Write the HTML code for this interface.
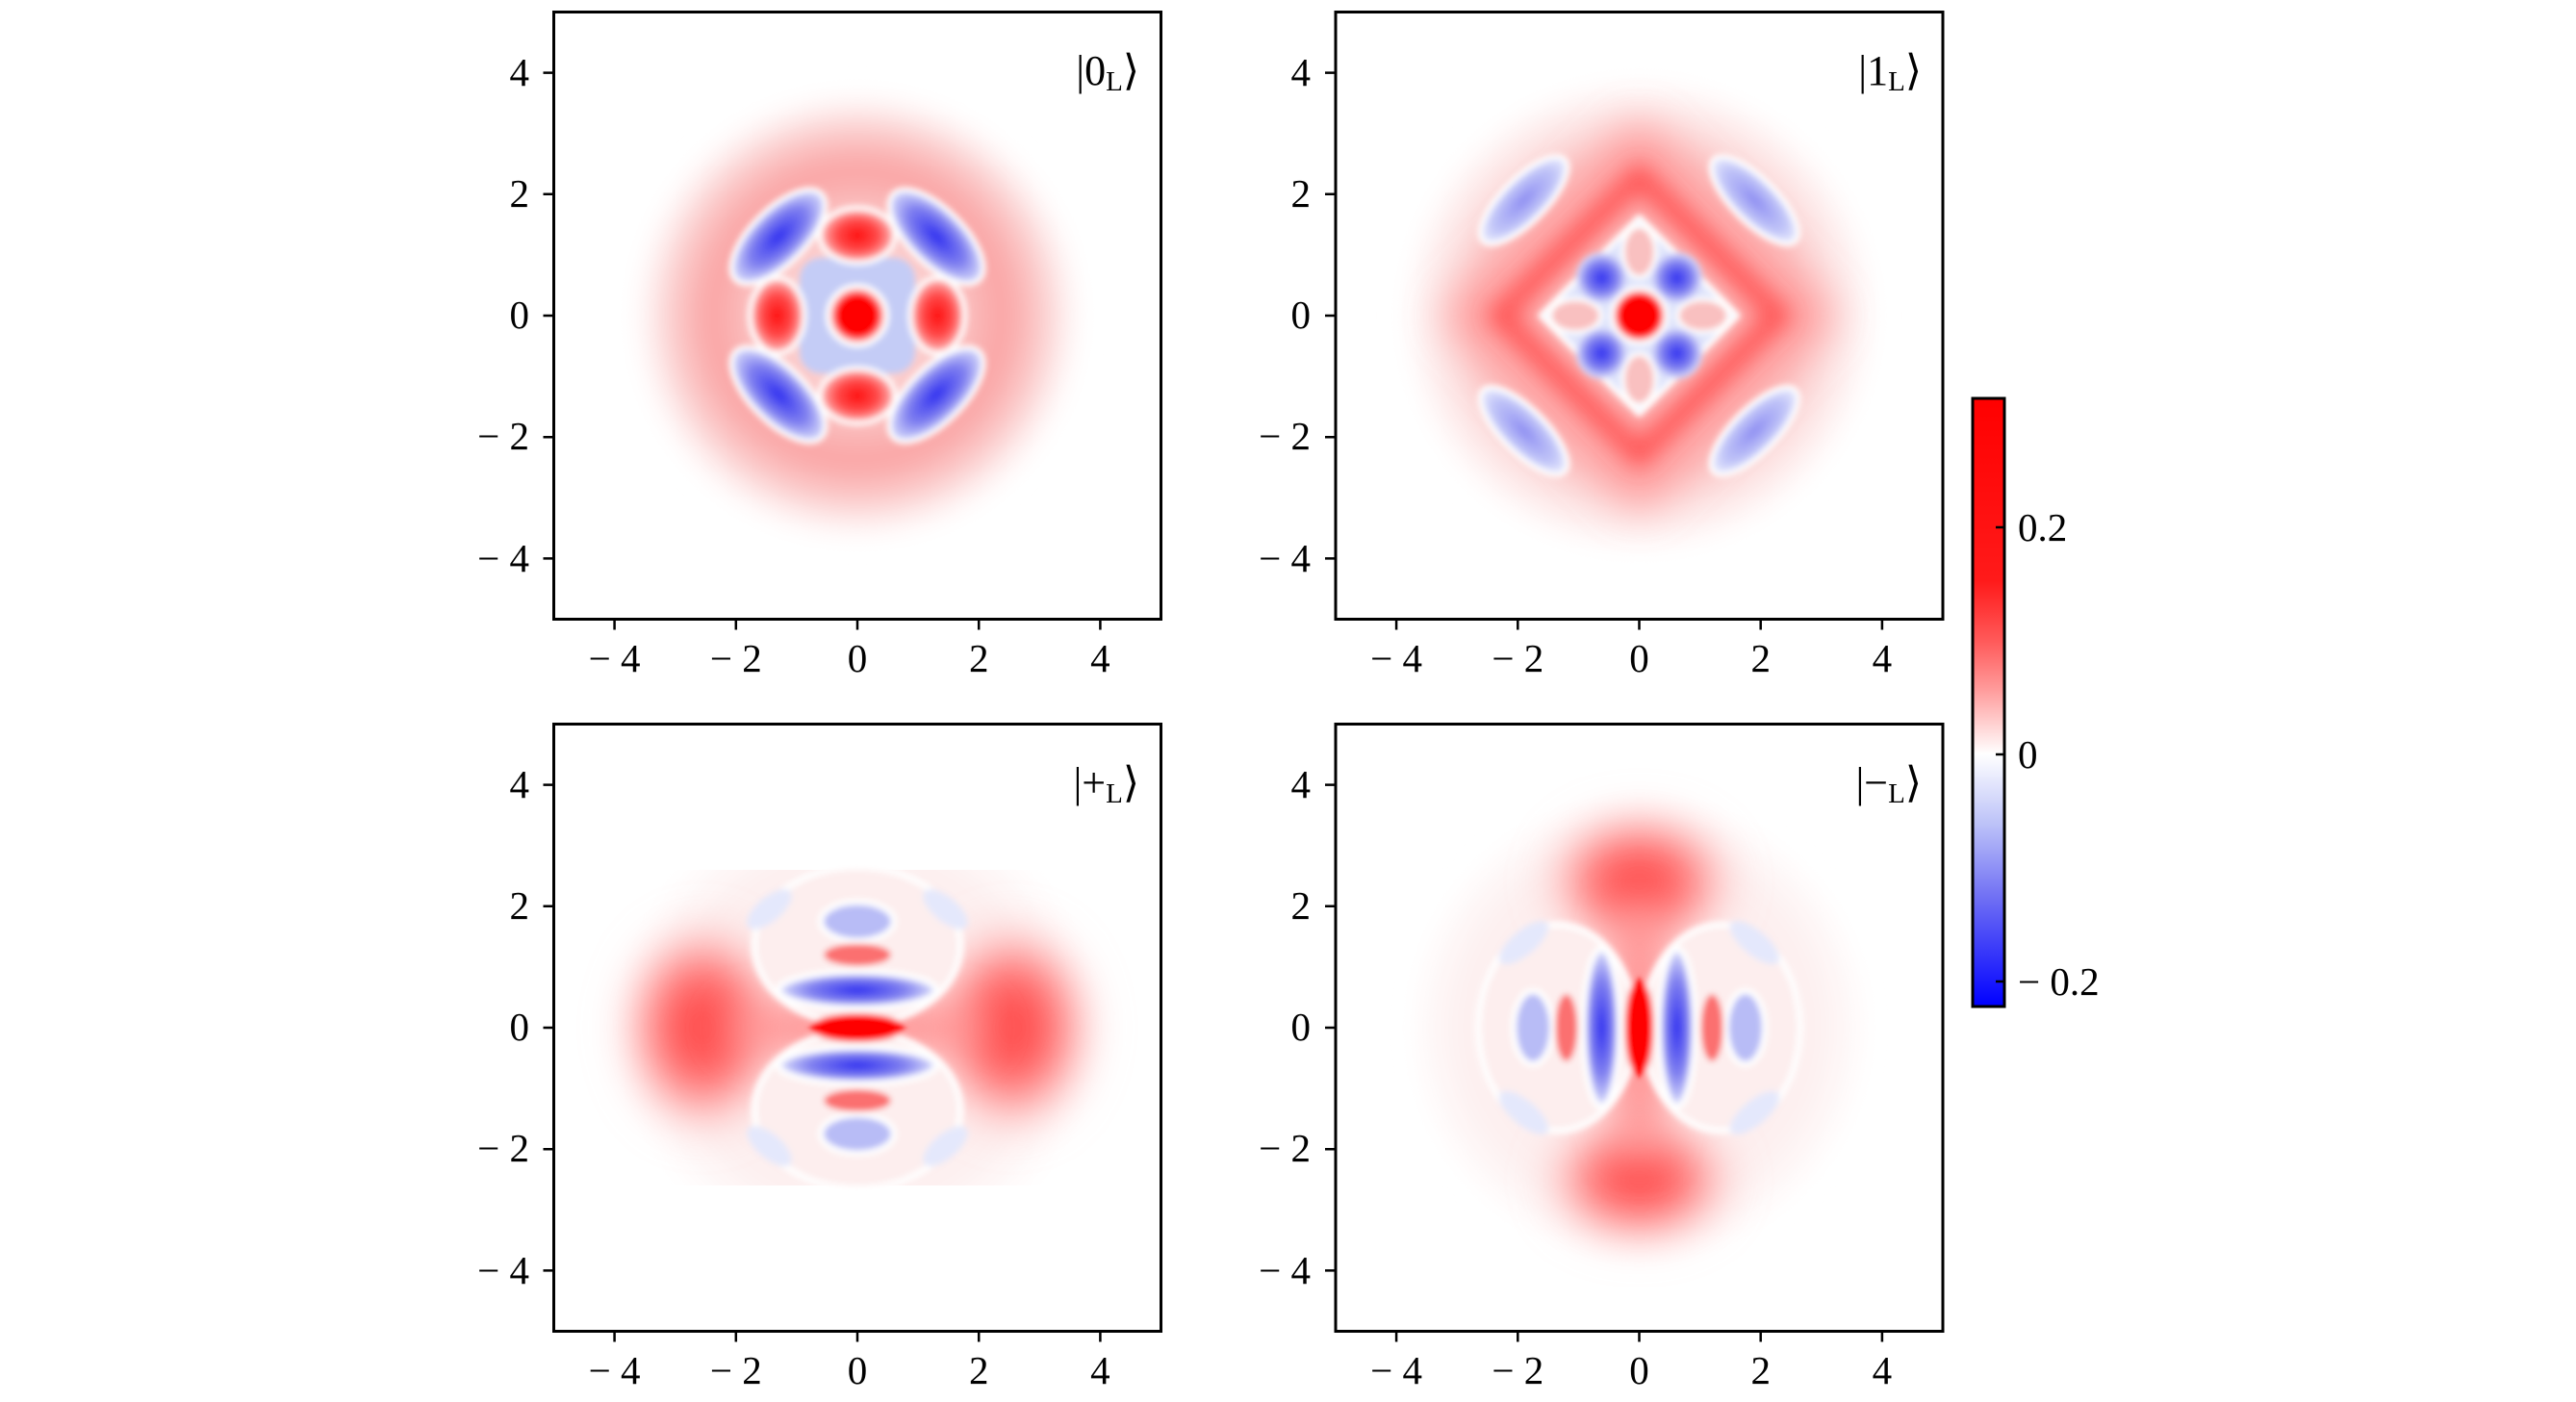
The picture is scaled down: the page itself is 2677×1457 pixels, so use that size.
<!DOCTYPE html>
<html><head><meta charset="utf-8"><style>
html,body{margin:0;padding:0;background:#fff;}
svg{display:block;}
text{font-family:"Liberation Serif",serif;fill:#000;}
</style></head><body>
<svg width="2677" height="1457" viewBox="0 0 2677 1457" xmlns="http://www.w3.org/2000/svg">
<defs>
<filter id="b1" filterUnits="userSpaceOnUse" x="-5" y="-5" width="10" height="10"><feGaussianBlur stdDeviation="0.05"/></filter>
<filter id="b2" filterUnits="userSpaceOnUse" x="-5" y="-5" width="10" height="10"><feGaussianBlur stdDeviation="0.18"/></filter>
<filter id="b3" filterUnits="userSpaceOnUse" x="-5" y="-5" width="10" height="10"><feGaussianBlur stdDeviation="0.35"/></filter>
<radialGradient id="ring0" cx="0" cy="0" r="3.7" gradientUnits="userSpaceOnUse">
<stop offset="0" stop-color="#fde4e4"/><stop offset="0.45" stop-color="#fbc4c4"/><stop offset="0.65" stop-color="#f9a3a3"/><stop offset="0.8" stop-color="#fbc6c6"/><stop offset="0.93" stop-color="#fef0f0"/><stop offset="1" stop-color="#fff"/></radialGradient>
<radialGradient id="ring1" cx="0" cy="0" r="3.9" gradientUnits="userSpaceOnUse">
<stop offset="0" stop-color="#fcd0d0"/><stop offset="0.65" stop-color="#fbc4c4"/><stop offset="0.85" stop-color="#fde6e6"/><stop offset="1" stop-color="#fff"/></radialGradient>
<radialGradient id="env" cx="0" cy="0" r="3.9" gradientUnits="userSpaceOnUse">
<stop offset="0" stop-color="#fdeaea"/><stop offset="0.75" stop-color="#fdf0f0"/><stop offset="1" stop-color="#fff"/></radialGradient>
<radialGradient id="rl" cx="0.5" cy="0.5" r="0.5"><stop offset="0" stop-color="#ff1010"/><stop offset="0.55" stop-color="#ff4a4a"/><stop offset="1" stop-color="#fdc0c0"/></radialGradient>
<radialGradient id="rs" cx="0.5" cy="0.5" r="0.5"><stop offset="0" stop-color="#ff3535"/><stop offset="0.55" stop-color="#ff6e6e"/><stop offset="1" stop-color="#ffd0d0" stop-opacity="0"/></radialGradient>
<radialGradient id="bl" cx="0.5" cy="0.5" r="0.5"><stop offset="0" stop-color="#3030f0"/><stop offset="0.6" stop-color="#8080f0"/><stop offset="1" stop-color="#dde0fb"/></radialGradient>
<radialGradient id="blp" cx="0.5" cy="0.5" r="0.5"><stop offset="0" stop-color="#8f8ff2"/><stop offset="0.7" stop-color="#c0c4f8"/><stop offset="1" stop-color="#eceefd"/></radialGradient>
<linearGradient id="cb" x1="0" y1="0" x2="0" y2="1">
<stop offset="0" stop-color="#ff0000"/><stop offset="0.3" stop-color="#ff1a1a"/><stop offset="0.4" stop-color="#ff5a5a"/><stop offset="0.48" stop-color="#ff9c9c"/><stop offset="0.585" stop-color="#ffffff"/><stop offset="0.7" stop-color="#bcc2f8"/><stop offset="0.82" stop-color="#7070f4"/><stop offset="1" stop-color="#0000ff"/></linearGradient>
<clipPath id="cp"><rect x="-5" y="-5" width="10" height="10"/></clipPath>
<clipPath id="cpp"><rect x="-5" y="-2.6" width="10" height="5.2"/></clipPath>
</defs>

<!-- Panel 0L -->
<g transform="translate(891,328) scale(63.1,-63.1)" clip-path="url(#cp)">
 <circle r="3.7" fill="url(#ring0)" filter="url(#b2)"/>
 <g filter="url(#b1)">
  <g fill="url(#bl)" stroke="#fff" stroke-width="0.08">
   <ellipse cx="-1.3" cy="1.3" rx="1.0" ry="0.45" transform="rotate(45 -1.3 1.3)"/>
   <ellipse cx="1.3" cy="1.3" rx="1.0" ry="0.45" transform="rotate(-45 1.3 1.3)"/>
   <ellipse cx="-1.3" cy="-1.3" rx="1.0" ry="0.45" transform="rotate(-45 -1.3 -1.3)"/>
   <ellipse cx="1.3" cy="-1.3" rx="1.0" ry="0.45" transform="rotate(45 1.3 -1.3)"/>
  </g>
  <rect x="-0.95" y="-0.95" width="1.9" height="1.9" rx="0.35" fill="#c4ccf6"/>
  <g stroke="#fff" stroke-width="0.08">
   <ellipse cx="0" cy="1.32" rx="0.62" ry="0.45" fill="url(#rl)"/>
   <ellipse cx="0" cy="-1.32" rx="0.62" ry="0.45" fill="url(#rl)"/>
   <ellipse cx="1.32" cy="0" rx="0.45" ry="0.62" fill="url(#rl)"/>
   <ellipse cx="-1.32" cy="0" rx="0.45" ry="0.62" fill="url(#rl)"/>
  </g>
  <circle r="0.48" fill="#f88" stroke="#fff" stroke-width="0.09"/>
  <circle r="0.36" fill="#ff0000"/>
 </g>
</g>

<!-- Panel 1L -->
<g transform="translate(1703.5,328) scale(63.1,-63.1)" clip-path="url(#cp)">
 <circle r="3.9" fill="url(#ring1)" filter="url(#b2)"/>
 <path d="M0,2.5 L2.5,0 L0,-2.5 L-2.5,0 Z" fill="none" stroke="#ff9a9a" stroke-width="1.0" filter="url(#b3)"/>
 <path d="M0,2.3 L2.3,0 L0,-2.3 L-2.3,0 Z" fill="none" stroke="#ff5050" stroke-width="0.3" filter="url(#b2)"/>
 <g filter="url(#b1)">
  <g fill="url(#blp)" stroke="#fff" stroke-width="0.08">
   <ellipse cx="-1.9" cy="1.9" rx="0.95" ry="0.36" transform="rotate(45 -1.9 1.9)"/>
   <ellipse cx="1.9" cy="1.9" rx="0.95" ry="0.36" transform="rotate(-45 1.9 1.9)"/>
   <ellipse cx="-1.9" cy="-1.9" rx="0.95" ry="0.36" transform="rotate(-45 -1.9 -1.9)"/>
   <ellipse cx="1.9" cy="-1.9" rx="0.95" ry="0.36" transform="rotate(45 1.9 -1.9)"/>
  </g>
  <path d="M0,1.62 L1.62,0 L0,-1.62 L-1.62,0 Z" fill="#dfe4fb" stroke="#fff" stroke-width="0.09" stroke-linejoin="round"/>
  <g fill="url(#bl)">
   <circle cx="-0.62" cy="0.62" r="0.42"/><circle cx="0.62" cy="0.62" r="0.42"/>
   <circle cx="-0.62" cy="-0.62" r="0.42"/><circle cx="0.62" cy="-0.62" r="0.42"/>
  </g>
  <g fill="#f9c0c0" stroke="#fff" stroke-width="0.07">
   <ellipse cx="0" cy="1.05" rx="0.27" ry="0.42"/><ellipse cx="0" cy="-1.05" rx="0.27" ry="0.42"/>
   <ellipse cx="1.05" cy="0" rx="0.42" ry="0.27"/><ellipse cx="-1.05" cy="0" rx="0.42" ry="0.27"/>
  </g>
  <circle r="0.45" fill="#f99" stroke="#fff" stroke-width="0.08"/>
  <circle r="0.36" fill="#ff0000"/>
 </g>
</g>

<!-- Panel +L -->
<g transform="translate(891,1068) scale(63.1,-63.1)" clip-path="url(#cp)">
 <g clip-path="url(#cpp)">
 <circle r="3.9" fill="url(#env)" filter="url(#b2)"/>
 <ellipse cx="-2.55" cy="0" rx="1.4" ry="1.8" fill="url(#rs)" filter="url(#b3)"/>
 <ellipse cx="2.55" cy="0" rx="1.4" ry="1.8" fill="url(#rs)" filter="url(#b3)"/>
 <ellipse cx="0" cy="0" rx="2.2" ry="0.45" fill="#ff8c8c" filter="url(#b3)"/>
 </g>
 <g filter="url(#b1)">
  <g fill="none" stroke="#fff" stroke-width="0.1">
   <ellipse cx="0" cy="1.35" rx="1.7" ry="1.3" fill="#fdeeee"/>
   <ellipse cx="0" cy="-1.35" rx="1.7" ry="1.3" fill="#fdeeee"/>
  </g>
  <ellipse cx="-1.45" cy="1.95" rx="0.45" ry="0.2" fill="#e4e8fc" transform="rotate(40 -1.45 1.95)"/>
  <ellipse cx="1.45" cy="1.95" rx="0.45" ry="0.2" fill="#e4e8fc" transform="rotate(-40 1.45 1.95)"/>
  <ellipse cx="-1.45" cy="-1.95" rx="0.45" ry="0.2" fill="#e4e8fc" transform="rotate(-40 -1.45 -1.95)"/>
  <ellipse cx="1.45" cy="-1.95" rx="0.45" ry="0.2" fill="#e4e8fc" transform="rotate(40 1.45 -1.95)"/>
  <ellipse cx="0" cy="1.2" rx="0.55" ry="0.18" fill="#fb7070"/>
  <ellipse cx="0" cy="-1.2" rx="0.55" ry="0.18" fill="#fb7070"/>
  <ellipse cx="0" cy="1.75" rx="0.6" ry="0.32" fill="#b8bcf6" stroke="#fff" stroke-width="0.1"/>
  <ellipse cx="0" cy="-1.75" rx="0.6" ry="0.32" fill="#b8bcf6" stroke="#fff" stroke-width="0.1"/>
  <ellipse cx="0" cy="0.62" rx="1.3" ry="0.3" fill="url(#bl)" stroke="#fff" stroke-width="0.1"/>
  <ellipse cx="0" cy="-0.62" rx="1.3" ry="0.3" fill="url(#bl)" stroke="#fff" stroke-width="0.1"/>
  <ellipse cx="0" cy="0" rx="0.77" ry="0.23" fill="#ff0000"/>
 </g>
</g>

<!-- Panel -L -->
<g transform="translate(1703.5,1068) scale(63.1,-63.1)" clip-path="url(#cp)">
 <circle r="3.7" fill="url(#env)" filter="url(#b2)"/>
 <ellipse cx="0" cy="2.4" rx="1.6" ry="1.2" fill="url(#rs)" filter="url(#b3)"/>
 <ellipse cx="0" cy="-2.5" rx="1.6" ry="1.1" fill="url(#rs)" filter="url(#b3)"/>
 <ellipse cx="0" cy="0" rx="0.5" ry="2.2" fill="#ff8c8c" filter="url(#b3)"/>
 <g filter="url(#b1)">
  <g stroke="#fff" stroke-width="0.1">
   <ellipse cx="-1.35" cy="0" rx="1.3" ry="1.7" fill="#fdeeee"/>
   <ellipse cx="1.35" cy="0" rx="1.3" ry="1.7" fill="#fdeeee"/>
  </g>
  <ellipse cx="-1.9" cy="1.4" rx="0.5" ry="0.2" fill="#e4e8fc" transform="rotate(40 -1.9 1.4)"/>
  <ellipse cx="1.9" cy="1.4" rx="0.5" ry="0.2" fill="#e4e8fc" transform="rotate(-40 1.9 1.4)"/>
  <ellipse cx="-1.9" cy="-1.4" rx="0.5" ry="0.2" fill="#e4e8fc" transform="rotate(-40 -1.9 -1.4)"/>
  <ellipse cx="1.9" cy="-1.4" rx="0.5" ry="0.2" fill="#e4e8fc" transform="rotate(40 1.9 -1.4)"/>
  <ellipse cx="-1.2" cy="0" rx="0.18" ry="0.55" fill="#fb7070"/>
  <ellipse cx="1.2" cy="0" rx="0.18" ry="0.55" fill="#fb7070"/>
  <ellipse cx="-1.75" cy="0" rx="0.32" ry="0.6" fill="#b8bcf6" stroke="#fff" stroke-width="0.1"/>
  <ellipse cx="1.75" cy="0" rx="0.32" ry="0.6" fill="#b8bcf6" stroke="#fff" stroke-width="0.1"/>
  <ellipse cx="-0.62" cy="0" rx="0.3" ry="1.3" fill="url(#bl)" stroke="#fff" stroke-width="0.1"/>
  <ellipse cx="0.62" cy="0" rx="0.3" ry="1.3" fill="url(#bl)" stroke="#fff" stroke-width="0.1"/>
  <ellipse cx="0" cy="0" rx="0.23" ry="0.8" fill="#ff0000"/>
 </g>
</g>

<!-- Axes frames, ticks, labels -->
<g fill="none" stroke="#000" stroke-width="3">
 <rect x="575.5" y="12.5" width="631" height="631"/>
 <rect x="1388" y="12.5" width="631" height="631"/>
 <rect x="575.5" y="752.5" width="631" height="631"/>
 <rect x="1388" y="752.5" width="631" height="631"/>
</g>
<g stroke="#000" stroke-width="2.5">
 <path d="M638.6,643.5v11M764.8,643.5v11M891,643.5v11M1017.2,643.5v11M1143.4,643.5v11"/>
 <path d="M575.5,75.6h-11M575.5,201.8h-11M575.5,328h-11M575.5,454.2h-11M575.5,580.4h-11"/>
 <path d="M1451.1,643.5v11M1577.3,643.5v11M1703.5,643.5v11M1829.7,643.5v11M1955.9,643.5v11"/>
 <path d="M1388,75.6h-11M1388,201.8h-11M1388,328h-11M1388,454.2h-11M1388,580.4h-11"/>
 <path d="M638.6,1383.5v11M764.8,1383.5v11M891,1383.5v11M1017.2,1383.5v11M1143.4,1383.5v11"/>
 <path d="M575.5,815.6h-11M575.5,941.8h-11M575.5,1068h-11M575.5,1194.2h-11M575.5,1320.4h-11"/>
 <path d="M1451.1,1383.5v11M1577.3,1383.5v11M1703.5,1383.5v11M1829.7,1383.5v11M1955.9,1383.5v11"/>
 <path d="M1388,815.6h-11M1388,941.8h-11M1388,1068h-11M1388,1194.2h-11M1388,1320.4h-11"/>
</g>
<g font-size="41" text-anchor="middle">
 <text x="638.6" y="698">− 4</text><text x="764.8" y="698">− 2</text><text x="891" y="698">0</text><text x="1017.2" y="698">2</text><text x="1143.4" y="698">4</text>
 <text x="1451.1" y="698">− 4</text><text x="1577.3" y="698">− 2</text><text x="1703.5" y="698">0</text><text x="1829.7" y="698">2</text><text x="1955.9" y="698">4</text>
 <text x="638.6" y="1438">− 4</text><text x="764.8" y="1438">− 2</text><text x="891" y="1438">0</text><text x="1017.2" y="1438">2</text><text x="1143.4" y="1438">4</text>
 <text x="1451.1" y="1438">− 4</text><text x="1577.3" y="1438">− 2</text><text x="1703.5" y="1438">0</text><text x="1829.7" y="1438">2</text><text x="1955.9" y="1438">4</text>
</g>
<g font-size="41" text-anchor="end">
 <text x="550" y="89">4</text><text x="550" y="215">2</text><text x="550" y="341">0</text><text x="550" y="467">− 2</text><text x="550" y="594">− 4</text>
 <text x="1362" y="89">4</text><text x="1362" y="215">2</text><text x="1362" y="341">0</text><text x="1362" y="467">− 2</text><text x="1362" y="594">− 4</text>
 <text x="550" y="829">4</text><text x="550" y="955">2</text><text x="550" y="1081">0</text><text x="550" y="1207">− 2</text><text x="550" y="1334">− 4</text>
 <text x="1362" y="829">4</text><text x="1362" y="955">2</text><text x="1362" y="1081">0</text><text x="1362" y="1207">− 2</text><text x="1362" y="1334">− 4</text>
</g>
<g font-size="44" text-anchor="end">
 <text x="1184" y="88">|0<tspan font-size="29" dy="6">L</tspan><tspan dy="-6">⟩</tspan></text>
 <text x="1997" y="88">|1<tspan font-size="29" dy="6">L</tspan><tspan dy="-6">⟩</tspan></text>
 <text x="1184" y="828">|+<tspan font-size="29" dy="6">L</tspan><tspan dy="-6">⟩</tspan></text>
 <text x="1997" y="828">|−<tspan font-size="29" dy="6">L</tspan><tspan dy="-6">⟩</tspan></text>
</g>

<!-- Colorbar -->
<rect x="2050" y="414" width="33" height="632" fill="url(#cb)" stroke="#000" stroke-width="3"/>
<g stroke="#000" stroke-width="2.5"><path d="M2083,548h-9M2083,784h-9M2083,1020h-9"/></g>
<g font-size="41">
 <text x="2097" y="562">0.2</text><text x="2097" y="798">0</text><text x="2097" y="1034">− 0.2</text>
</g>
</svg>
</body></html>
